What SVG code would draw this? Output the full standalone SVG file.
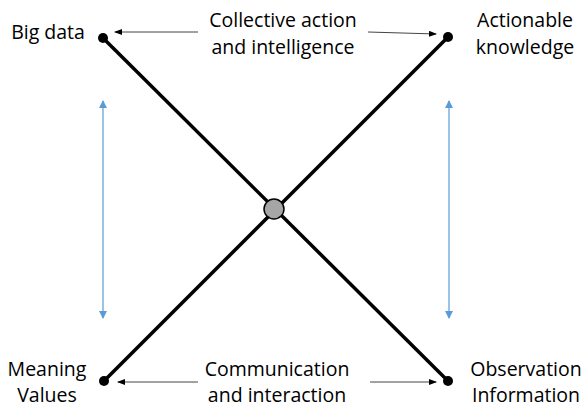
<svg xmlns="http://www.w3.org/2000/svg" width="583" height="408" viewBox="0 0 583 408">
<defs>
<style>
text{font-family:"Open Sans","Liberation Sans",sans-serif;font-size:19.5px;fill:#000;text-anchor:middle}
.main{stroke:#000;stroke-width:3.5;fill:none}
.thin{stroke:#444;stroke-width:1;fill:none;marker-end:url(#ah)}
.blue{stroke:#5b9bd5;stroke-width:1.2;fill:none;marker-start:url(#bs);marker-end:url(#be)}
.dot{fill:#000}
</style>
<marker id="ah" markerWidth="8" markerHeight="6" refX="7" refY="3" orient="auto" markerUnits="userSpaceOnUse"><path d="M0,0 L8,3 L0,6 Z" fill="#000"/></marker>
<marker id="be" markerWidth="8" markerHeight="8" refX="7" refY="4" orient="auto" markerUnits="userSpaceOnUse"><path d="M0,0 L8,4 L0,8 Z" fill="#5b9bd5"/></marker>
<marker id="bs" markerWidth="8" markerHeight="8" refX="1" refY="4" orient="auto" markerUnits="userSpaceOnUse"><path d="M8,0 L0,4 L8,8 Z" fill="#5b9bd5"/></marker>
</defs>
<g id="connectors">
<line class="main" x1="103" y1="38" x2="448" y2="381"/>
<line class="main" x1="448" y1="37" x2="104" y2="381"/>
<line class="thin" x1="198" y1="32" x2="115" y2="32"/>
<line class="thin" x1="368" y1="32" x2="436" y2="34"/>
<line class="thin" x1="198" y1="382" x2="118" y2="382"/>
<line class="thin" x1="370" y1="382" x2="436" y2="382"/>
<line class="blue" x1="103" y1="101" x2="103" y2="318"/>
<line class="blue" x1="449" y1="101" x2="449" y2="318"/>
</g>
<g id="big-data"><circle class="dot" cx="103" cy="38" r="5"/><text x="48" y="39">Big data</text></g>
<g id="actionable"><circle class="dot" cx="448" cy="37" r="5"/><text x="525" y="27">Actionable</text><text x="525" y="54">knowledge</text></g>
<g id="meaning"><circle class="dot" cx="104" cy="381" r="5"/><text x="47" y="376">Meaning</text><text x="47" y="402">Values</text></g>
<g id="observation"><circle class="dot" cx="448" cy="381" r="5"/><text x="526" y="376">Observation</text><text x="526" y="402">Information</text></g>
<g id="center"><circle cx="274" cy="209" r="10" fill="#a6a6a6" stroke="#000" stroke-width="1.5"/></g>
<g id="collective"><text x="283" y="27">Collective action</text><text x="283" y="54">and intelligence</text></g>
<g id="communication"><text x="277" y="376">Communication</text><text x="277" y="402">and interaction</text></g>
</svg>
